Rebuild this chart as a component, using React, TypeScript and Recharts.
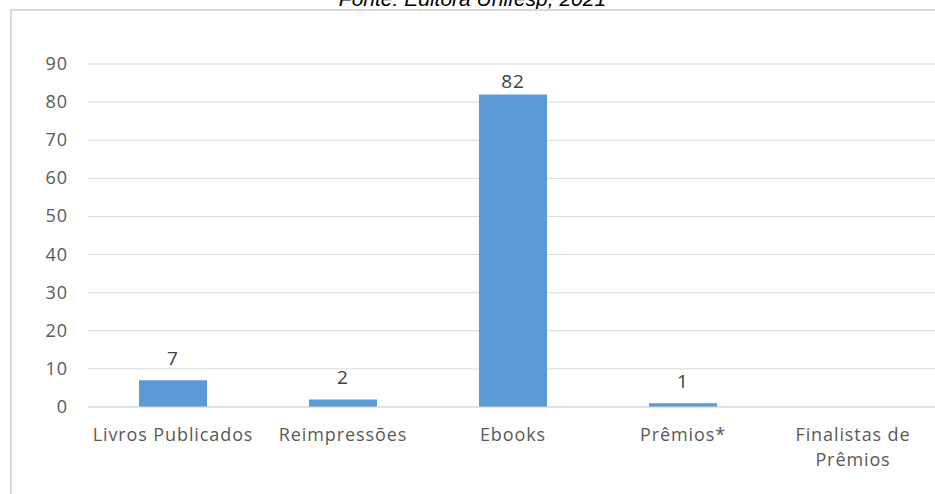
import { BarChart, Bar, XAxis, YAxis, CartesianGrid, LabelList } from "recharts";

const categories = ["Livros Publicados", "Reimpressões", "Ebooks", "Prêmios*", "Finalistas de Prêmios"];
const counts = [7, 2, 82, 1, 0];
const yTicks = [0, 10, 20, 30, 40, 50, 60, 70, 80, 90];

const data = categories.map((name, i) => ({ name, value: counts[i] }));

const FONT = "'Open Sans', sans-serif";
const SPACING = 0.9;

// break long category names onto two lines
function wrap(label: string, max = 17): string[] {
  if (label.length <= max) return [label];
  const words = label.split(" ");
  const lines: string[] = [];
  let cur = "";
  for (const w of words) {
    const next = cur ? cur + " " + w : w;
    if (next.length > max && cur) {
      lines.push(cur);
      cur = w;
    } else {
      cur = next;
    }
  }
  if (cur) lines.push(cur);
  return lines;
}

function CategoryTick({ x, y, payload }: any) {
  const lines = wrap(String(payload.value));
  return (
    <text
      x={x}
      y={y}
      textAnchor="middle"
      fill="#595959"
      fontSize={18}
      letterSpacing={SPACING}
      fontFamily={FONT}
    >
      {lines.map((l, i) => (
        <tspan key={i} x={x} dy={i === 0 ? 26 : 25}>
          {l}
        </tspan>
      ))}
    </text>
  );
}

function YTick({ x, y, payload }: any) {
  return (
    <text
      x={x}
      y={y}
      dy={6}
      textAnchor="end"
      fill="#595959"
      fontSize={18}
      letterSpacing={SPACING}
      fontFamily={FONT}
    >
      {payload.value}
    </text>
  );
}

// value above each bar; tall bars keep their label inside the plot top
function ValueLabel({ x, y, width, value }: any) {
  if (!value) return null;
  const cy = Math.max(y - 22, 81);
  return (
    <text
      x={x + width / 2}
      y={cy}
      dy={7}
      textAnchor="middle"
      fill="#404040"
      fontSize={19}
      letterSpacing={SPACING}
      fontFamily={FONT}
    >
      {value}
    </text>
  );
}

export default function App() {
  return (
    <div style={{ position: "fixed", left: 0, top: 0, width: 935, height: 494, overflow: "hidden", background: "#fff" }}>
      <div
        style={{
          position: "absolute",
          left: 10,
          right: 0,
          top: -13,
          textAlign: "center",
          fontFamily: "'Liberation Sans', Arial, sans-serif",
          fontStyle: "italic",
          fontSize: 21,
          lineHeight: "24px",
          color: "#000",
        }}
      >
        Fonte: Editora Unifesp, 2021
      </div>
      <div
        style={{
          position: "absolute",
          left: 10,
          top: 9,
          width: 960,
          height: 520,
          border: "2px solid #d9d9d9",
        }}
      />
      <div style={{ position: "absolute", left: 0, top: 0 }}>
        <BarChart
          width={938}
          height={494}
          data={data}
          margin={{ top: 64, right: 0, bottom: 0, left: 0 }}
          barCategoryGap={51}
        >
          <CartesianGrid vertical={false} stroke="#d9d9d9" />
          <XAxis
            dataKey="name"
            height={87}
            tick={<CategoryTick />}
            tickLine={false}
            axisLine={{ stroke: "#d9d9d9" }}
            interval={0}
          />
          <YAxis
            width={88}
            domain={[0, 90]}
            ticks={yTicks}
            tickLine={false}
            axisLine={false}
            tickSize={0}
            tickMargin={20}
            tick={<YTick />}
          />
          <Bar dataKey="value" fill="#5b9bd5" isAnimationActive={false}>
            <LabelList dataKey="value" content={<ValueLabel />} />
          </Bar>
        </BarChart>
      </div>
    </div>
  );
}
